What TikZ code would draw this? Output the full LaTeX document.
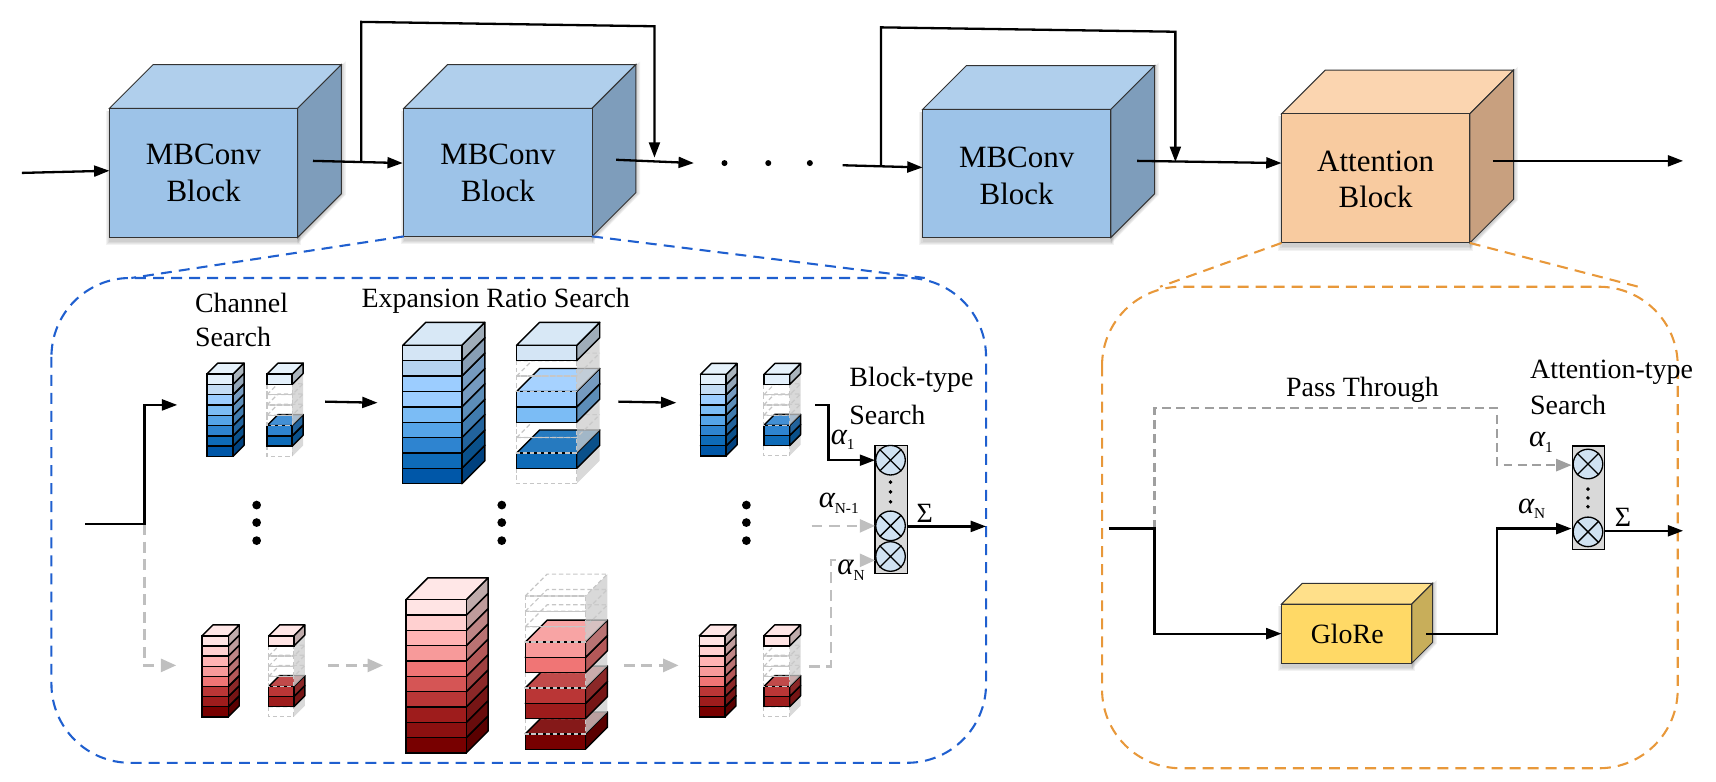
\documentclass[tikz,border=0pt]{standalone}
\usepackage{fontspec}
\setmainfont{Liberation Serif}
\usetikzlibrary{arrows.meta}
\definecolor{bfront}{HTML}{9DC3E8}\definecolor{btop}{HTML}{B0CFEC}\definecolor{bside}{HTML}{7E9DBB}
\definecolor{ofront}{HTML}{F8CBA0}\definecolor{otop}{HTML}{FBD5B0}\definecolor{oside}{HTML}{C8A07F}
\definecolor{yfront}{HTML}{FFD966}\definecolor{ytop}{HTML}{FFE08A}\definecolor{yside}{HTML}{C8AE5A}
\definecolor{blued}{HTML}{1F5FCF}\definecolor{orgd}{HTML}{E8983A}\definecolor{muxc}{HTML}{D0E2F2}
\definecolor{bA}{HTML}{E3F0FB}\definecolor{bAA}{HTML}{D4E5F5}\definecolor{bB}{HTML}{C4DCF4}\definecolor{bBB}{HTML}{B5D3F0}
\definecolor{bC}{HTML}{9CCDFF}\definecolor{bD}{HTML}{7BBCF5}
\definecolor{bE}{HTML}{55A4E8}\definecolor{bF}{HTML}{2E84D0}\definecolor{bG}{HTML}{0E6BB8}\definecolor{bH}{HTML}{0057A8}
\definecolor{rA}{HTML}{FFE4E4}\definecolor{rB}{HTML}{FFD0D0}\definecolor{rC}{HTML}{FFB3B3}\definecolor{rD}{HTML}{F79A9A}
\definecolor{rE}{HTML}{F07575}\definecolor{rF}{HTML}{D55555}\definecolor{rG}{HTML}{BA3636}\definecolor{rH}{HTML}{9E1C1C}
\definecolor{rI}{HTML}{8B1010}\definecolor{rJ}{HTML}{780000}
\tikzset{
  line/.style={line width=2.1pt,black,-{Triangle[length=14pt,width=10pt]}},
  gline/.style={line width=2.1pt,draw=gray!50,dash pattern=on 10pt off 6pt,-{Triangle[length=14pt,width=12pt,fill=gray!50]}},
  pline/.style={line width=2.1pt,draw=gray!75,dash pattern=on 8pt off 5pt,-{Triangle[length=14pt,width=11pt,fill=gray!75]}},
  zoomb/.style={line width=1.9pt,draw=blued,dash pattern=on 10pt off 6.5pt},
  zoomo/.style={line width=1.9pt,draw=orgd,dash pattern=on 10pt off 6.5pt},
  lab/.style={font=\fontsize{25.5}{30}\selectfont,inner sep=0pt,align=left},
  big/.style={font=\fontsize{28.3}{33.5}\selectfont,inner sep=0pt,align=center},
  dotk/.style={circle,fill=black,inner sep=0pt,minimum size=8pt},
  hdot/.style={circle,fill=black,inner sep=0pt,minimum size=5.5pt},
  mdot/.style={circle,fill=black,inner sep=0pt,minimum size=3.6pt},
  muxbox/.style={draw=black,fill=gray!30,line width=1pt,inner sep=0pt},
  mux/.style={circle,draw=black,fill=muxc,line width=1.2pt,inner sep=0pt,minimum size=27pt},
  sig/.style={font=\fontsize{25.5}{30}\selectfont,inner sep=0pt},
  alpha/.style={font=\fontsize{28}{30}\selectfont\itshape,inner sep=0pt},
}
\newcommand{\subsc}[1]{\raisebox{-5pt}{\upshape\fontsize{14}{14}\selectfont #1}}
\newcommand{\cubeshape}[9]{
  \foreach \s in {1,2,3,4}{
    \fill[black,opacity=.05] (#2-\s+1,#3+2) -- ++(#4+2*\s-2,0) -- ++(0,#5+\s+1) -- ++(-#4-2*\s+2,0) -- cycle;
    \fill[black,opacity=.05] (#2+#4,#3) -- ++(#6+\s,-#6-\s+1) -- ++(0,#5+\s) -- ++(-#6-\s,#6+\s+1) -- cycle;
  }
  \draw[black!80,line width=.9pt,fill=#8] (#2,#3) -- ++(#6,-#6) -- ++(#4,0) -- ++(-#6,#6) -- cycle;
  \draw[black!80,line width=.9pt,fill=#9] (#2+#4,#3) -- ++(#6,-#6) -- ++(0,#5) -- ++(-#6,#6) -- cycle;
  \node[draw=black!80,line width=.9pt,fill=#7,anchor=north west,minimum width=#4 pt,minimum height=#5 pt,inner sep=0pt,outer sep=0pt] (#1) at (#2,#3) {};
}
\newcommand{\stackcol}[6]{
  \foreach \c/\k [count=\i] in {#6}{
    \pgfmathsetmacro{\yy}{#2-\i*#4}
    \ifnum\k=1
      \draw[black,line width=1.3pt,line join=round,fill=\c!75!black] (#1+#3,\yy) -- ++(#5,-#5) -- ++(0,#4) -- ++(-#5,#5) -- cycle;
      \draw[black,line width=1.3pt,line join=round,fill=\c!90!white] (#1,\yy) -- ++(#5,-#5) -- ++(#3,0) -- ++(-#5,#5) -- cycle;
      \draw[black,line width=1.3pt,fill=\c] (#1,\yy) rectangle ++(#3,#4);
    \else
      \fill[gray!40,opacity=.75] (#1+#3,\yy) -- ++(#5,-#5) -- ++(0,#4) -- ++(-#5,#5) -- cycle;
      \draw[gray!45,line width=1.1pt,dash pattern=on 4pt off 2.5pt] (#1,\yy) -- ++(#5,-#5) -- ++(#3,0) (#1,\yy) -- ++(#3,0) -- ++(#5,-#5);
      \draw[gray!45,line width=1.1pt,dash pattern=on 4pt off 2.5pt] (#1,\yy) rectangle ++(#3,#4);
    \fi
  }
}
\begin{document}
\begin{tikzpicture}[x=1pt,y=-1pt]
\useasboundingbox (0,0) rectangle (1568,714.5);

\cubeshape{m1}{100}{99}{172}{118}{40}{bfront}{btop}{bside}
\cubeshape{m2}{369}{99}{172}{117}{40}{bfront}{btop}{bside}
\cubeshape{m3}{843}{100}{172}{117}{40}{bfront}{btop}{bside}
\cubeshape{ab}{1171}{104}{172}{118}{40}{ofront}{otop}{oside}
\node[big] (t1) at (186,158) {MBConv\\Block};
\node[big] (t2) at (455,158) {MBConv\\Block};
\node[big] (t3) at (929,161) {MBConv\\Block};
\node[big] (t4) at (1257,164) {Attention\\Block};

\coordinate (in0) at (20,158);
\coordinate (a1) at (100,156);
\coordinate (o1) at (286,147);
\coordinate (a2) at (368,149);
\coordinate (o2) at (563,146);
\coordinate (a3) at (634,149);
\coordinate (o3) at (770,151);
\coordinate (a4) at (843,153);
\coordinate (o4) at (1039,147);
\coordinate (a5) at (1171,149);
\coordinate (o5) at (1364,147);
\coordinate (a6) at (1538,147);
\draw[line] (in0) -- (a1);
\draw[line] (o1) -- (a2);
\draw[line] (o2) -- (a3);
\draw[line] (o3) -- (a4);
\draw[line] (o4) -- (a5);
\draw[line] (o5) -- (a6);
\node[hdot] (td1) at (662,149) {};
\node[hdot] (td2) at (702,149) {};
\node[hdot] (td3) at (740,149) {};
\coordinate (s1a) at (330,148);\coordinate (s1b) at (330,20);\coordinate (s1c) at (598,24);\coordinate (s1d) at (598,144);
\coordinate (s2a) at (805,152);\coordinate (s2b) at (805,25);\coordinate (s2c) at (1074,29);\coordinate (s2d) at (1074,148);
\draw[line] (s1a) -- (s1b) -- (s1c) -- (s1d);
\draw[line] (s2a) -- (s2b) -- (s2c) -- (s2d);

\coordinate (bz1) at (120,254);\coordinate (bz2) at (845,254);
\coordinate (oz1) at (1060,262);\coordinate (oz2) at (1497,262);
\draw[zoomb] (m2.south west) -- (bz1);
\draw[zoomb] (m2.south east) -- (bz2);
\draw[zoomo] (ab.south west) -- (oz1);
\draw[zoomo] (ab.south east) -- (oz2);
\draw[zoomb,rounded corners=72pt] (47,254) rectangle (901,697);
\draw[zoomo,rounded corners=72pt] (1007,262) rectangle (1533,702);

\stackcol{189}{417}{24}{9.4}{10}{bH/1,bG/1,bF/1,bE/1,bD/1,bC/1,bB/1,bA/1}
\stackcol{244}{417}{23}{9.4}{10}{bH/0,bG/1,bF/1,bE/0,bD/0,bC/0,bB/0,bA/1}
\stackcol{368}{442}{54}{14.05}{21}{bH/1,bG/1,bF/1,bE/1,bD/1,bC/1,bC/1,bBB/1,bAA/1}
\stackcol{472}{442}{55}{14.05}{21}{bH/0,bG/1,bF/0,bE/0,bD/1,bC/1,bC/0,bBB/0,bAA/1}
\stackcol{640}{416.5}{23.5}{9.3}{10}{bH/1,bG/1,bF/1,bE/1,bD/1,bC/1,bB/1,bA/1}
\stackcol{698}{416.5}{23.5}{9.3}{10}{bH/0,bG/1,bF/1,bE/0,bD/0,bC/0,bB/0,bA/1}
\stackcol{184.6}{655}{24}{9.25}{10}{rJ/1,rH/1,rG/1,rE/1,rD/1,rC/1,rB/1,rA/1}
\stackcol{245.5}{655}{23}{9.25}{10}{rJ/0,rH/1,rG/1,rE/0,rD/0,rC/0,rB/0,rA/1}
\stackcol{371}{688}{55}{14}{20}{rJ/1,rI/1,rH/1,rG/1,rF/1,rE/1,rD/1,rC/1,rB/1,rA/1}
\stackcol{480}{684.6}{55}{14}{20}{rJ/1,rH/0,rH/1,rG/1,rF/0,rE/1,rD/1,rC/0,rB/0,rA/0}
\stackcol{639}{655}{23.5}{9.25}{10}{rJ/1,rH/1,rG/1,rE/1,rD/1,rC/1,rB/1,rA/1}
\stackcol{698}{655}{23.5}{9.25}{10}{rJ/0,rH/1,rG/1,rE/0,rD/0,rC/0,rB/0,rA/1}

\node[lab,anchor=west] (l1) at (178,277) {Channel};
\node[lab,anchor=west] (l2) at (178,308) {Search};
\node[lab] (l3) at (453,275) {Expansion Ratio Search};
\node[lab,anchor=west] (l4) at (776,347) {Block-type};
\node[lab,anchor=west] (l5) at (776,379) {Search};
\node[lab,anchor=west] (l6) at (1398,340) {Attention-type};
\node[lab,anchor=west] (l7) at (1398,370) {Search};
\node[lab] (l8) at (1245,356) {Pass Through};

\foreach \n/\x in {a/234.5,b/458.5,c/682}{
  \node[dotk] (v\n1) at (\x,461.5) {};
  \node[dotk] (v\n2) at (\x,477.5) {};
  \node[dotk] (v\n3) at (\x,494) {};
}

\node[muxbox,anchor=north west,minimum width=29.5pt,minimum height=117pt] (bmux) at (799,406.5) {};
\node[mux] (bm1) at (813.7,420.5) {};
\node[mux] (bm2) at (813.7,480.5) {};
\node[mux] (bm3) at (813.7,508.5) {};
\draw[line width=1.2pt] (bm1.north east)--(bm1.south west) (bm1.north west)--(bm1.south east);
\draw[line width=1.2pt] (bm2.north east)--(bm2.south west) (bm2.north west)--(bm2.south east);
\draw[line width=1.2pt] (bm3.north east)--(bm3.south west) (bm3.north west)--(bm3.south east);
\node[mdot] (bd1) at (813.7,440.5) {};
\node[mdot] (bd2) at (813.7,449.5) {};
\node[mdot] (bd3) at (813.7,458.5) {};

\coordinate (bin) at (78,479);\coordinate (bj) at (132,479);\coordinate (bup) at (132,370);\coordinate (bch) at (162,370);
\coordinate (bdn) at (132,608);\coordinate (bch2) at (161,608);
\draw[gline] (bj) -- (bdn) -- (bch2);
\draw[line] (bin) -- (bj) -- (bup) -- (bch);
\coordinate (p1) at (297,367);\coordinate (p2) at (345,368);
\coordinate (p3) at (565,367);\coordinate (p4) at (618,368);
\coordinate (g1) at (300,608);\coordinate (g2) at (350,608);
\coordinate (g3) at (570,608);\coordinate (g4) at (620,608);
\draw[line] (p1) -- (p2);
\draw[line] (p3) -- (p4);
\draw[gline] (g1) -- (g2);
\draw[gline] (g3) -- (g4);
\coordinate (e1) at (745,370);\coordinate (e2) at (757,370);\coordinate (e3) at (757,420.5);
\draw[line] (e1) -- (e2) -- (e3) -- (bm1.west);
\coordinate (f1) at (741.5,480.5);
\draw[gline] (f1) -- (bm2.west);
\coordinate (h1) at (739,609);\coordinate (h2) at (759,609);\coordinate (h3) at (759,512);
\draw[gline] (h1) -- (h2) -- (h3) -- (bm3.west |- h3);
\coordinate (bout) at (901,481);
\draw[line] (bmux.east |- bout) -- (bout);
\node[sig] (bs) at (845,469) {Σ};
\node[alpha,anchor=west] (ba1) at (759,402) {α\subsc{1}};
\node[alpha,anchor=west] (ba2) at (748,460) {α\subsc{N-1}};
\node[alpha,anchor=west] (ba3) at (765,521) {α\subsc{N}};

\cubeshape{gl}{1171}{552}{119}{54}{19}{yfront}{ytop}{yside}
\node[lab] (gt) at (1231,579) {GloRe};
\node[muxbox,anchor=north west,minimum width=30pt,minimum height=95pt] (amux) at (1436,407) {};
\node[mux] (am1) at (1451,424) {};
\node[mux] (am2) at (1451,486) {};
\draw[line width=1.2pt] (am1.north east)--(am1.south west) (am1.north west)--(am1.south east);
\draw[line width=1.2pt] (am2.north east)--(am2.south west) (am2.north west)--(am2.south east);
\node[mdot] (ad1) at (1451,447) {};
\node[mdot] (ad2) at (1451,455) {};
\node[mdot] (ad3) at (1451,463) {};
\coordinate (ain) at (1013,483);\coordinate (aj) at (1055,483);\coordinate (ad) at (1055,579);
\coordinate (au) at (1055,373);\coordinate (ar) at (1368,373);\coordinate (ars) at (1368,425);
\coordinate (go) at (1303,579);\coordinate (gr) at (1368,579);\coordinate (gu) at (1368,483);
\coordinate (aout) at (1538,485);
\draw[pline] (aj) -- (au) -- (ar) -- (ars) -- (amux.west |- ars);
\draw[line] (ain) -- (aj) -- (ad) -- (gl.west |- ad);
\draw[line] (go) -- (gr) -- (gu) -- (amux.west |- gu);
\draw[line] (amux.east |- aout) -- (aout);
\node[sig] (as) at (1483,473) {Σ};
\node[alpha,anchor=west] (aa1) at (1397,404) {α\subsc{1}};
\node[alpha,anchor=west] (aa2) at (1387,465) {α\subsc{N}};
\end{tikzpicture}
\end{document}
